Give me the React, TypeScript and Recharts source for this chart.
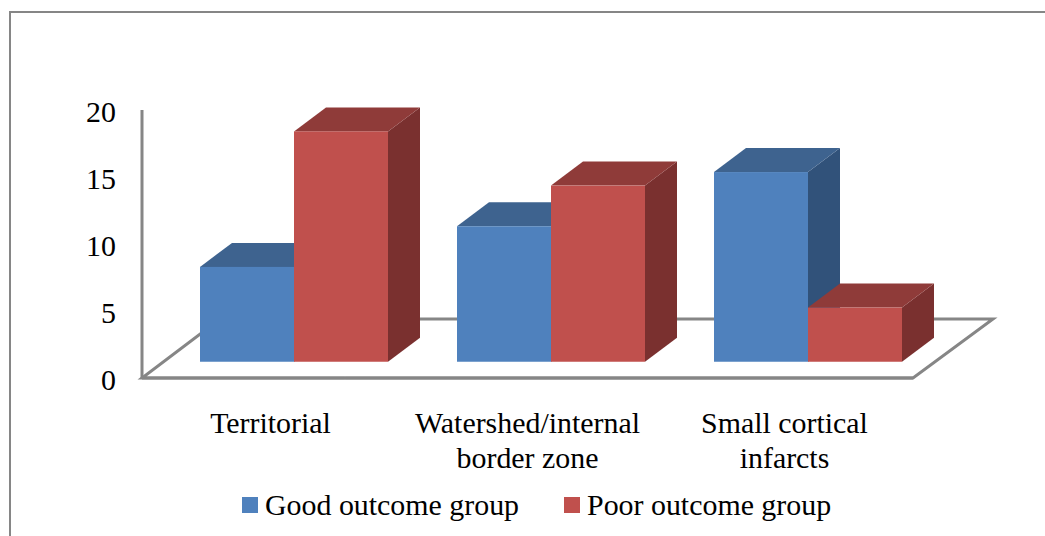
import React from "react";
import { ComposedChart, Bar, Line, XAxis, YAxis, Legend, Customized } from "recharts";

const categories = ["Territorial", "Watershed/internal border zone", "Small cortical infarcts"];
const categoryLines = [["Territorial"], ["Watershed/internal", "border zone"], ["Small cortical", "infarcts"]];
const goodOutcome = [7, 10, 14];
const poorOutcome = [17, 13, 4];
const valueTicks = [0, 5, 10, 15, 20];

const rows = categories.map((category, i) => ({
  category,
  good: goodOutcome[i],
  poor: poorOutcome[i],
}));

const WIDTH = 1045;
const HEIGHT = 536;
const LEGEND_HEIGHT = 34;
const FLOOR_BOTTOM = 158;
const MARGIN = { top: 110, right: 132, bottom: 0, left: 0 };
const AXIS_WIDTH = 142;
const FONT = '"Liberation Serif", "Times New Roman", serif';
const FONT_SIZE = 29.9;
const GREY = "#868686";
const DEPTH_X = 32;
const DEPTH_Y = 24;
const BAR_SHIFT = 23.5;

const BLUE = { front: "#4F81BD", top: "#3E638F", side: "#31527A" };
const RED = { front: "#C0504D", top: "#8F3B39", side: "#7A302F" };

// Extruded box: front face plus the visible top and right faces.
function Box3D(props: any) {
  const { x, y, width, height, palette } = props;
  const left = x + BAR_SHIFT;
  const right = left + width;
  const bottom = y + height;
  return (
    <g>
      <polygon
        points={`${right},${y} ${right + DEPTH_X},${y - DEPTH_Y} ${right + DEPTH_X},${bottom - DEPTH_Y} ${right},${bottom}`}
        fill={palette.side}
      />
      <polygon
        points={`${left},${y} ${left + DEPTH_X},${y - DEPTH_Y} ${right + DEPTH_X},${y - DEPTH_Y} ${right},${y}`}
        fill={palette.top}
      />
      <rect x={left} y={y} width={width} height={height} fill={palette.front} />
    </g>
  );
}

// Outline of the chart floor, behind the boxes.
function Floor() {
  const x0 = AXIS_WIDTH;
  const x1 = WIDTH - MARGIN.right;
  const y0 = HEIGHT - FLOOR_BOTTOM;
  return (
    <polygon
      points={`${x0},${y0} ${x1},${y0} ${x1 + 80},${y0 - 59} ${x0 + 78},${y0 - 59}`}
      fill="none"
      stroke={GREY}
      strokeWidth={3}
    />
  );
}

// Thin pale seam that crosses the first group.
function Seam() {
  return <line x1={345} x2={345} y1={108} y2={380} stroke="#ffffff" strokeOpacity={0.16} strokeWidth={1} />;
}

function CategoryTick(props: any) {
  const { x, y, index } = props;
  const lines = categoryLines[index] || [];
  return (
    <text x={x} y={y} textAnchor="middle" fontFamily={FONT} fontSize={FONT_SIZE} fill="#000">
      {lines.map((line: string, i: number) => (
        <tspan key={line} x={x} y={y + 47 + i * 35}>
          {line}
        </tspan>
      ))}
    </text>
  );
}

function LegendRow(props: any) {
  const items = (props.payload || []).filter((item: any) => item.type !== "none");
  return (
    <div style={{ display: "flex", alignItems: "center", fontFamily: FONT, fontSize: FONT_SIZE, color: "#000", lineHeight: "34px" }}>
      {items.map((item: any, i: number) => (
        <div key={item.value} style={{ display: "flex", alignItems: "center", marginRight: i === 0 ? 45 : 0 }}>
          <span style={{ width: 16, height: 16, background: item.color, marginRight: 7, display: "inline-block" }} />
          <span style={{ whiteSpace: "nowrap" }}>{item.value}</span>
        </div>
      ))}
    </div>
  );
}

export default function App() {
  return (
    <div style={{ position: "absolute", left: 0, top: 0, width: WIDTH, height: HEIGHT, overflow: "hidden", background: "#fff" }}>
      <div
        style={{
          position: "absolute",
          left: 8.5,
          top: 11,
          width: 1200,
          height: 800,
          borderLeft: `2.5px solid ${GREY}`,
          borderTop: `2.5px solid ${GREY}`,
        }}
      />
      <ComposedChart
        width={WIDTH}
        height={HEIGHT}
        data={rows}
        margin={MARGIN}
        barGap={0}
        barCategoryGap={34.5}
        style={{ position: "absolute", left: 0, top: 0 }}
      >
        <Customized component={Floor} />
        <XAxis
          dataKey="category"
          interval={0}
          tickLine={false}
          axisLine={{ stroke: GREY, strokeWidth: 3 }}
          tick={<CategoryTick />}
          height={FLOOR_BOTTOM - LEGEND_HEIGHT}
        />
        {/* Boxes stand on the raised front edge of the floor, slightly steeper than the printed scale. */}
        <YAxis yAxisId="boxes" hide width={0} domain={[-1.2, 18.58]} />
        <YAxis
          yAxisId="labels"
          width={AXIS_WIDTH}
          domain={[0, 20]}
          ticks={valueTicks}
          interval={0}
          tickLine={false}
          tickSize={0}
          tickMargin={26}
          axisLine={{ stroke: GREY, strokeWidth: 3 }}
          tick={{ fontFamily: FONT, fontSize: FONT_SIZE, fill: "#000", dy: 1 }}
        />
        {/* Unstroked series that keeps the printed value axis bound to the data. */}
        <Line
          yAxisId="labels"
          dataKey="good"
          stroke="none"
          dot={false}
          activeDot={false}
          legendType="none"
          isAnimationActive={false}
        />
        <Bar
          yAxisId="boxes"
          dataKey="good"
          name="Good outcome group"
          fill={BLUE.front}
          isAnimationActive={false}
          shape={(p: any) => <Box3D {...p} palette={BLUE} />}
        />
        <Bar
          yAxisId="boxes"
          dataKey="poor"
          name="Poor outcome group"
          fill={RED.front}
          isAnimationActive={false}
          shape={(p: any) => <Box3D {...p} palette={RED} />}
        />
        <Customized component={Seam} />
        <Legend
          content={<LegendRow />}
          layout="horizontal"
          wrapperStyle={{ position: "absolute", left: 242, top: 488, width: "auto", bottom: "auto" }}
        />
      </ComposedChart>
    </div>
  );
}
